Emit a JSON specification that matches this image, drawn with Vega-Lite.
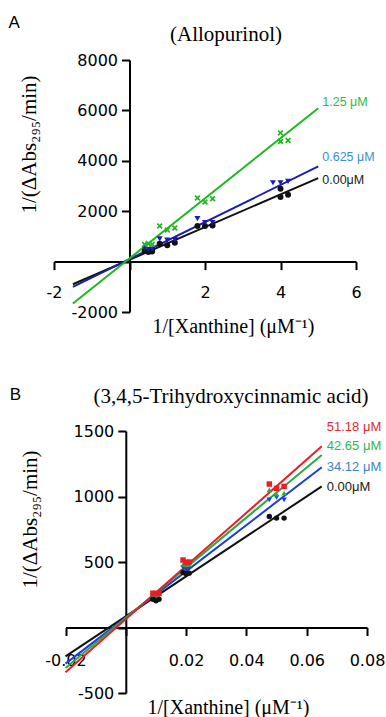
{
  "$schema": "https://vega.github.io/schema/vega-lite/v6.json",
  "padding": {"top": 14, "left": 8, "right": 0, "bottom": 0},
  "background": "white",
  "config": {
    "view": {"stroke": null},
    "concat": {"spacing": 49},
    "title": {"font": "Liberation Serif", "fontSize": 21, "fontWeight": "normal", "color": "black"},
    "axis": {
      "grid": false,
      "domainColor": "black", "domainWidth": 2,
      "tickColor": "black", "tickWidth": 2, "tickSize": 8,
      "labelFont": "DejaVu Sans", "labelFontSize": 16, "labelColor": "black",
      "labelFlush": false, "labelOverlap": false,
      "titleFont": "Liberation Serif", "titleFontSize": 20, "titleFontWeight": "normal", "titleColor": "black"
    }
  },
  "datasets": {
    "linesA": [
      {"c": "0.00", "x": -1.5, "y": -900}, {"c": "0.00", "x": 5, "y": 3315},
      {"c": "0.625", "x": -1.5, "y": -1003}, {"c": "0.625", "x": 5, "y": 3775},
      {"c": "1.25", "x": -1.5, "y": -1663}, {"c": "1.25", "x": 5, "y": 6087}
    ],
    "pointsA": [
      {"c": "0.00", "x": 0.4, "y": 420}, {"c": "0.00", "x": 0.5, "y": 380}, {"c": "0.00", "x": 0.6, "y": 400},
      {"c": "0.00", "x": 0.8, "y": 713}, {"c": "0.00", "x": 1.0, "y": 645}, {"c": "0.00", "x": 1.2, "y": 752},
      {"c": "0.00", "x": 1.8, "y": 1413}, {"c": "0.00", "x": 2.0, "y": 1413}, {"c": "0.00", "x": 2.2, "y": 1437},
      {"c": "0.00", "x": 4.0, "y": 2890}, {"c": "0.00", "x": 4.0, "y": 2560}, {"c": "0.00", "x": 4.2, "y": 2653},
      {"c": "0.625", "x": 0.4, "y": 520}, {"c": "0.625", "x": 0.5, "y": 480}, {"c": "0.625", "x": 0.6, "y": 500},
      {"c": "0.625", "x": 0.8, "y": 900}, {"c": "0.625", "x": 1.0, "y": 850}, {"c": "0.625", "x": 1.2, "y": 870},
      {"c": "0.625", "x": 1.8, "y": 1703}, {"c": "0.625", "x": 2.0, "y": 1550}, {"c": "0.625", "x": 2.2, "y": 1550},
      {"c": "0.625", "x": 3.8, "y": 3128}, {"c": "0.625", "x": 4.0, "y": 3128}, {"c": "0.625", "x": 4.2, "y": 3180},
      {"c": "1.25", "x": 0.4, "y": 680}, {"c": "1.25", "x": 0.5, "y": 720}, {"c": "1.25", "x": 0.6, "y": 690},
      {"c": "1.25", "x": 0.8, "y": 1414}, {"c": "1.25", "x": 1.0, "y": 1255}, {"c": "1.25", "x": 1.2, "y": 1333},
      {"c": "1.25", "x": 1.8, "y": 2522}, {"c": "1.25", "x": 2.0, "y": 2364}, {"c": "1.25", "x": 2.2, "y": 2495},
      {"c": "1.25", "x": 4.0, "y": 5108}, {"c": "1.25", "x": 4.0, "y": 4764}, {"c": "1.25", "x": 4.2, "y": 4804}
    ],
    "labelsA": [
      {"c": "1.25", "t": "1.25 μM", "x": 5, "y": 6336},
      {"c": "0.625", "t": "0.625 μM", "x": 5, "y": 4158},
      {"c": "0.00", "t": "0.00μM", "x": 5, "y": 3247}
    ],
    "linesB": [
      {"c": "0.00", "x": -0.02, "y": -220}, {"c": "0.00", "x": 0.065, "y": 1077},
      {"c": "34.12", "x": -0.02, "y": -276}, {"c": "34.12", "x": 0.065, "y": 1223},
      {"c": "42.65", "x": -0.02, "y": -309}, {"c": "42.65", "x": 0.065, "y": 1317},
      {"c": "51.18", "x": -0.02, "y": -342}, {"c": "51.18", "x": 0.065, "y": 1383}
    ],
    "pointsB": [
      {"c": "0.00", "x": 0.009, "y": 215}, {"c": "0.00", "x": 0.01, "y": 205}, {"c": "0.00", "x": 0.011, "y": 215},
      {"c": "0.00", "x": 0.019, "y": 420}, {"c": "0.00", "x": 0.02, "y": 410}, {"c": "0.00", "x": 0.021, "y": 415},
      {"c": "0.00", "x": 0.0476, "y": 848}, {"c": "0.00", "x": 0.05, "y": 835}, {"c": "0.00", "x": 0.0525, "y": 835},
      {"c": "34.12", "x": 0.009, "y": 245}, {"c": "34.12", "x": 0.01, "y": 240}, {"c": "34.12", "x": 0.011, "y": 245},
      {"c": "34.12", "x": 0.019, "y": 457}, {"c": "34.12", "x": 0.02, "y": 444}, {"c": "34.12", "x": 0.021, "y": 450},
      {"c": "34.12", "x": 0.0476, "y": 975}, {"c": "34.12", "x": 0.05, "y": 993}, {"c": "34.12", "x": 0.0525, "y": 975},
      {"c": "42.65", "x": 0.009, "y": 255}, {"c": "42.65", "x": 0.01, "y": 250}, {"c": "42.65", "x": 0.011, "y": 255},
      {"c": "42.65", "x": 0.019, "y": 482}, {"c": "42.65", "x": 0.02, "y": 478}, {"c": "42.65", "x": 0.021, "y": 482},
      {"c": "42.65", "x": 0.0476, "y": 1051}, {"c": "42.65", "x": 0.05, "y": 1018}, {"c": "42.65", "x": 0.0525, "y": 1026},
      {"c": "51.18", "x": 0.009, "y": 262}, {"c": "51.18", "x": 0.01, "y": 258}, {"c": "51.18", "x": 0.011, "y": 262},
      {"c": "51.18", "x": 0.019, "y": 515}, {"c": "51.18", "x": 0.02, "y": 497}, {"c": "51.18", "x": 0.021, "y": 500},
      {"c": "51.18", "x": 0.0476, "y": 1095}, {"c": "51.18", "x": 0.05, "y": 1062}, {"c": "51.18", "x": 0.0525, "y": 1077}
    ],
    "labelsB": [
      {"c": "51.18", "t": "51.18 μM", "x": 0.065, "y": 1529},
      {"c": "42.65", "t": "42.65 μM", "x": 0.065, "y": 1384},
      {"c": "34.12", "t": "34.12 μM", "x": 0.065, "y": 1223},
      {"c": "0.00", "t": "0.00μM", "x": 0.065, "y": 1070}
    ]
  },
  "vconcat": [
    {
      "title": {"text": "A", "anchor": "start", "font": "Liberation Sans", "fontSize": 17, "offset": 0, "dx": -10, "dy": 8},
      "vconcat": [
        {
          "title": {"text": "(Allopurinol)", "anchor": "middle", "dx": 21, "dy": 7, "offset": 14},
          "width": 302,
          "height": 252,
          "resolve": {"scale": {"color": "independent", "shape": "independent"}},
          "encoding": {
            "x": {
              "field": "x", "type": "quantitative",
              "scale": {"domain": [-2, 6], "nice": false, "zero": false},
              "axis": {
                "offset": -50.4, "values": [-2, 0, 2, 4, 6],
                "labelExpr": "datum.value == 0 ? '' : toString(datum.value)",
                "labelPadding": 15,
                "title": "1/[Xanthine] (μM⁻¹)", "titleX": 179, "titleY": 65, "titleBaseline": "middle"
              }
            },
            "y": {
              "field": "y", "type": "quantitative",
              "scale": {"domain": [-2000, 8000], "nice": false, "zero": false},
              "axis": {
                "offset": -75.5, "values": [-2000, 0, 2000, 4000, 6000, 8000],
                "labelExpr": "datum.value == 0 ? '' : toString(datum.value)",
                "labelPadding": 4,
                "title": "1/(ΔAbs₂₉₅/min)", "titleX": -100, "titleY": 84, "titleBaseline": "middle", "titleFontSize": 21
              }
            }
          },
          "layer": [
            {
              "data": {"name": "linesA"},
              "mark": {"type": "line", "strokeWidth": 2},
              "encoding": {
                "color": {"field": "c", "type": "nominal", "legend": null,
                  "scale": {"domain": ["0.00", "0.625", "1.25"], "range": ["#111111", "#1c1cb4", "#1db81d"]}}
              }
            },
            {
              "data": {"name": "pointsA"},
              "mark": {"type": "point", "filled": true, "opacity": 1, "size": 36},
              "encoding": {
                "color": {"field": "c", "type": "nominal", "legend": null,
                  "scale": {"domain": ["0.00", "0.625", "1.25"], "range": ["#111111", "#1c1cb4", "#1db81d"]}},
                "shape": {"field": "c", "type": "nominal", "legend": null,
                  "scale": {"domain": ["0.00", "0.625", "1.25"], "range": ["circle", "triangle-down", "M-1,-0.6L-0.6,-1L0,-0.4L0.6,-1L1,-0.6L0.4,0L1,0.6L0.6,1L0,0.4L-0.6,1L-1,0.6L-0.4,0Z"]}}
              }
            },
            {
              "data": {"name": "labelsA"},
              "mark": {"type": "text", "align": "left", "baseline": "middle", "dx": 4, "font": "Liberation Sans", "fontSize": 12.5},
              "encoding": {
                "text": {"field": "t"},
                "color": {"field": "c", "type": "nominal", "legend": null,
                  "scale": {"domain": ["0.00", "0.625", "1.25"], "range": ["#222222", "#3b8fd0", "#33b84a"]}}
              }
            }
          ]
        }
      ]
    },
    {
      "title": {"text": "B", "anchor": "start", "font": "Liberation Sans", "fontSize": 17, "offset": 0, "dx": -10, "dy": 18},
      "vconcat": [
        {
          "title": {"text": "(3,4,5-Trihydroxycinnamic acid)", "anchor": "middle", "dx": 20.5, "offset": 14},
          "width": 313,
          "height": 262,
          "resolve": {"scale": {"color": "independent", "shape": "independent"}},
          "encoding": {
            "x": {
              "field": "x", "type": "quantitative",
              "scale": {"domain": [-0.02, 0.08], "nice": false, "zero": false, "range": [11.5, 313]},
              "axis": {
                "offset": -65.5, "values": [-0.02, 0, 0.02, 0.04, 0.06, 0.08],
                "labelExpr": "datum.value == 0 ? '' : toString(datum.value)",
                "labelPadding": 17,
                "title": "1/[Xanthine] (μM⁻¹)", "titleX": 174, "titleY": 80, "titleBaseline": "middle"
              }
            },
            "y": {
              "field": "y", "type": "quantitative",
              "scale": {"domain": [-500, 1500], "nice": false, "zero": false},
              "axis": {
                "offset": -71.8, "values": [-500, 0, 500, 1000, 1500],
                "labelExpr": "datum.value == 0 ? '' : toString(datum.value)",
                "labelPadding": 4,
                "title": "1/(ΔAbs₂₉₅/min)", "titleX": -95, "titleY": 88, "titleBaseline": "middle", "titleFontSize": 21
              }
            }
          },
          "layer": [
            {
              "data": {"name": "linesB"},
              "mark": {"type": "line", "strokeWidth": 2},
              "encoding": {
                "color": {"field": "c", "type": "nominal", "legend": null,
                  "scale": {"domain": ["0.00", "34.12", "42.65", "51.18"], "range": ["#111111", "#1c3be0", "#20b040", "#ee1c24"]}}
              }
            },
            {
              "data": {"name": "pointsB"},
              "mark": {"type": "point", "filled": true, "opacity": 1, "size": 30},
              "encoding": {
                "color": {"field": "c", "type": "nominal", "legend": null,
                  "scale": {"domain": ["0.00", "34.12", "42.65", "51.18"], "range": ["#111111", "#1c3be0", "#20b040", "#ee1c24"]}},
                "shape": {"field": "c", "type": "nominal", "legend": null,
                  "scale": {"domain": ["0.00", "34.12", "42.65", "51.18"], "range": ["circle", "triangle-down", "triangle-up", "square"]}}
              }
            },
            {
              "data": {"name": "labelsB"},
              "mark": {"type": "text", "align": "left", "baseline": "middle", "dx": 5, "font": "Liberation Sans", "fontSize": 13},
              "encoding": {
                "text": {"field": "t"},
                "color": {"field": "c", "type": "nominal", "legend": null,
                  "scale": {"domain": ["0.00", "34.12", "42.65", "51.18"], "range": ["#222222", "#3b86c6", "#2fb552", "#e02a2a"]}}
              }
            }
          ]
        }
      ]
    }
  ]
}
